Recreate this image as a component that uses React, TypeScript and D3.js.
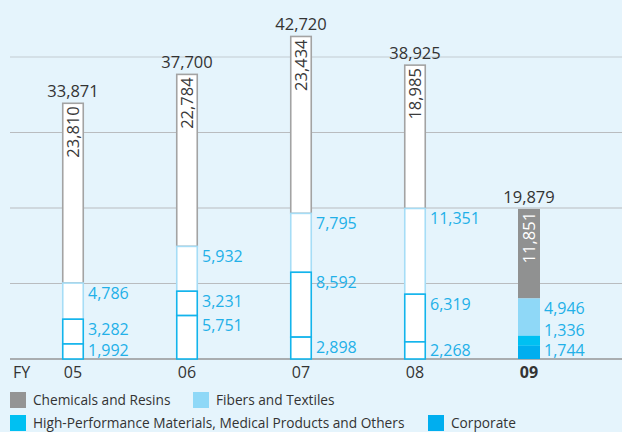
import React from "react";
import * as d3 from "d3";

const years = ["05", "06", "07", "08", "09"];
const chemicals = [23810, 22784, 23434, 18985, 11851];
const fibers = [4786, 5932, 7795, 11351, 4946];
const highPerf = [3282, 3231, 8592, 6319, 1336];
const corporate = [1992, 5751, 2898, 2268, 1744];
const totals = [33871, 37700, 42720, 38925, 19879];
const yTicks = [10000, 20000, 30000, 40000];

const legendItems = [
  { name: "Chemicals and Resins", color: "#949494" },
  { name: "Fibers and Textiles", color: "#8fd8f7" },
  { name: "High-Performance Materials, Medical Products and Others", color: "#00c0f2" },
  { name: "Corporate", color: "#00aeef" }
];

const W = 622;
const H = 432;
const FONT = "'Open Sans', sans-serif";
const BLUE_TEXT = "#22b0e8";

const App = () => {
  const x = d3.scaleBand<string>().domain(years).range([16, 586]);
  const y = d3.scaleLinear().domain([0, 40000]).range([359, 57]);
  const barW = 22;
  const fmt = d3.format(",");

  // stacked order, bottom up
  const series = [
    { key: "corporate", values: corporate, stroke: "#12b4ec", fill: "#00aeef" },
    { key: "highPerf", values: highPerf, stroke: "#12b4ec", fill: "#00c0f2" },
    { key: "fibers", values: fibers, stroke: "#a6ddf6", fill: "#8fd8f7" },
    { key: "chemicals", values: chemicals, stroke: "#a3a3a3", fill: "#909191" }
  ];

  const bars = years.map((yr, i) => {
    let acc = 0;
    const segs = series.map((s) => {
      const y0 = acc;
      acc += s.values[i];
      return { ...s, v: s.values[i], y0, y1: acc };
    });
    // small labels beside the bar (first three segments)
    const pos: number[] = [];
    for (let k = 0; k < 3; k++) {
      let p = y(segs[k].y1) + 10;
      if (k === 0) p = Math.min(p, y(0) - 9);
      else p = Math.min(p, pos[k - 1] - 20);
      pos.push(p);
    }
    return { yr, i, segs, pos, cx: (x(yr) as number) + x.bandwidth() / 2 };
  });

  return (
    <svg
      width={W}
      height={H}
      style={{ position: "fixed", left: 0, top: 0, background: "#e5f4fc" }}
      fontFamily={FONT}
    >
      {yTicks.map((t) => (
        <line
          key={t}
          x1={10}
          x2={W}
          y1={y(t)}
          y2={y(t)}
          stroke={t === 40000 ? "#c4ccd2" : "#b9bcbf"}
          strokeWidth={1.2}
        />
      ))}
      <line x1={10} x2={W} y1={y(0)} y2={y(0)} stroke="#a9adb0" strokeWidth={1.8} />

      {bars.map((b) => {
        const last = b.i === years.length - 1;
        const left = b.cx - barW / 2;
        const chem = b.segs[3];
        return (
          <g key={b.yr}>
            {[...b.segs].reverse().map((s) => (
              <rect
                key={s.key}
                x={last ? left : left + 0.75}
                y={y(s.y1)}
                width={last ? barW : barW - 1.5}
                height={y(s.y0) - y(s.y1)}
                fill={last ? s.fill : "#fff"}
                stroke={last ? "none" : s.stroke}
                strokeWidth={1.6}
              />
            ))}
            <text
              transform={`translate(${b.cx},${y(chem.y1) + 3}) rotate(-90)`}
              textAnchor="end"
              dy="0.36em"
              fontSize={16.5}
              fill={last ? "#fff" : "#3a3a3a"}
            >
              {fmt(chem.v)}
            </text>
            {b.segs.slice(0, 3).map((s, k) => (
              <text
                key={s.key}
                x={left + barW + 4}
                y={b.pos[k]}
                dy="0.36em"
                fontSize={16}
                fill={BLUE_TEXT}
              >
                {fmt(s.v)}
              </text>
            ))}
            <text
              x={b.cx}
              y={y(totals[b.i]) - 6}
              textAnchor="middle"
              fontSize={16.5}
              fill="#333"
            >
              {fmt(totals[b.i])}
            </text>
            <text
              x={b.cx}
              y={378}
              textAnchor="middle"
              fontSize={16}
              fill="#333"
              fontWeight={last ? 700 : 400}
            >
              {b.yr}
            </text>
          </g>
        );
      })}
      <text x={13} y={378} fontSize={16} fill="#333">
        FY
      </text>

      {legendItems.map((it, i) => {
        const lx = [10, 193, 10, 428][i];
        const ly = [400, 400, 423, 423][i];
        return (
          <g key={it.name}>
            <rect x={lx} y={ly - 8} width={16} height={16} fill={it.color} />
            <text x={lx + 23} y={ly} dy="0.36em" fontSize={13.7} fill="#333">
              {it.name}
            </text>
          </g>
        );
      })}
    </svg>
  );
};

export default App;
